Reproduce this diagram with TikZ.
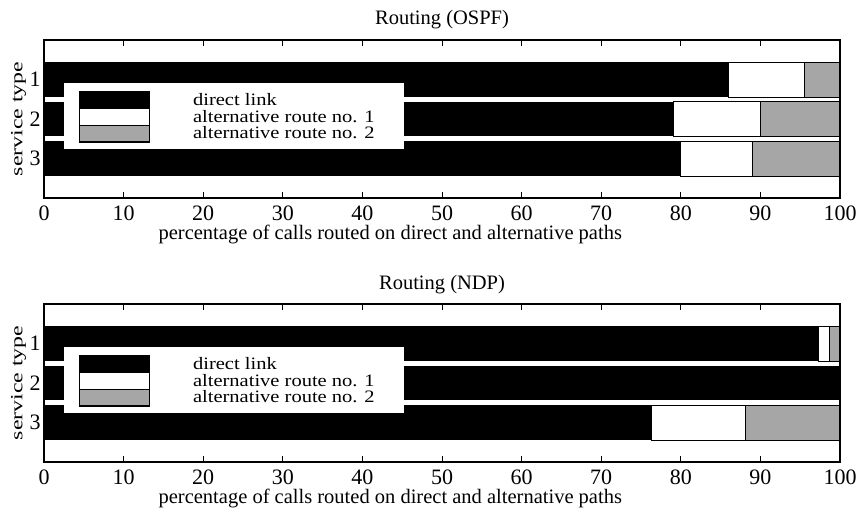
\documentclass[tikz,border=0pt]{standalone}
\usepackage{fontspec}
\setmainfont{Liberation Serif}

\begin{document}
\begin{tikzpicture}[x=1pt, y=1pt,
		txt/.style={inner sep=0pt, anchor=base, font=\fontsize{20.5}{20.5}\selectfont},
		ticklbl/.style={txt, font=\fontsize{22}{22}\selectfont},
		leglbl/.style={txt, anchor=base west},
		ylbl/.style={txt, anchor=center, rotate=90, font=\fontsize{17}{17}\selectfont},
		plotframe/.style={line width=1.2pt},
		tck/.style={line width=1pt},
		altone/.style={fill=white, draw=black, line width=0.7pt},
		alttwo/.style={fill=black!35, draw=black, line width=0.7pt}]
		\useasboundingbox (0,0) rectangle (858,512);
		
		% Routing (OSPF)
		\begin{scope}[shift={(44,314)}, x=7.96pt, y=39.5pt]
		\foreach \s/\a/\b in {1/86/95.5, 2/79/90, 3/80/89} {
			\fill (0,{4-\s-0.44}) rectangle (\a,{4-\s+0.44});
			\draw[altone] (\a,{4-\s-0.44}) rectangle (\b,{4-\s+0.44});
			\draw[alttwo] (\b,{4-\s-0.44}) rectangle (100,{4-\s+0.44});
			\node[ticklbl, anchor=center] (ospfrow\s) at (-1.13,4-\s) {\s};
		}
		\fill[white] (2.5,1.24) rectangle (45.2,2.91);
		\fill (4.4,2.28) rectangle (13.2,2.71);
		\draw[altone] (4.4,1.85) rectangle (13.2,2.28);
		\draw[alttwo] (4.4,1.42) rectangle (13.2,1.85);
		\draw[line width=0.9pt] (4.4,1.42) rectangle (13.2,2.71);
		\node[leglbl] (ospfleg1) at (18.7,2.337) {\scalebox{1}[0.85]{direct link}};
		\node[leglbl] (ospfleg2) at (18.7,1.916) {\scalebox{1}[0.85]{alternative route no. 1}};
		\node[leglbl] (ospfleg3) at (18.7,1.51) {\scalebox{1}[0.85]{alternative route no. 2}};
		\foreach \x in {10,20,...,90} {
			\draw[tck] (\x,0) -- ++(0,6pt);
			\draw[tck] (\x,4) -- ++(0,-6pt);
		}
		\draw[plotframe] (0,0) rectangle (100,4);
		\foreach \x in {0,10,...,100}
			\node[ticklbl, yshift=-22pt] (ospfx\x) at (\x,0) {\x};
		\node[txt, yshift=-41pt] (ospfxlab) at (43.5,0) {percentage of calls routed on direct and alternative paths};
		\node[ylbl] (ospfylab) at (-3.2,2) {\scalebox{1.4}[1]{service type}};
		\node[txt, yshift=15pt] (ospftitle) at (50,4) {Routing (OSPF)};
		\end{scope}
		
		% Routing (NDP)
		\begin{scope}[shift={(44,50)}, x=7.96pt, y=39.5pt]
		\foreach \s/\a/\b in {1/97.3/98.7, 2/100/100, 3/76.3/88.1} {
			\fill (0,{4-\s-0.44}) rectangle (\a,{4-\s+0.44});
			\ifdim\a pt<100pt
			\draw[altone] (\a,{4-\s-0.44}) rectangle (\b,{4-\s+0.44});
			\draw[alttwo] (\b,{4-\s-0.44}) rectangle (100,{4-\s+0.44});
			\fi
			\node[ticklbl, anchor=center] (ndprow\s) at (-1.13,4-\s) {\s};
		}
		\fill[white] (2.5,1.24) rectangle (45.2,2.91);
		\fill (4.4,2.28) rectangle (13.2,2.71);
		\draw[altone] (4.4,1.85) rectangle (13.2,2.28);
		\draw[alttwo] (4.4,1.42) rectangle (13.2,1.85);
		\draw[line width=0.9pt] (4.4,1.42) rectangle (13.2,2.71);
		\node[leglbl] (ndpleg1) at (18.7,2.337) {\scalebox{1}[0.85]{direct link}};
		\node[leglbl] (ndpleg2) at (18.7,1.916) {\scalebox{1}[0.85]{alternative route no. 1}};
		\node[leglbl] (ndpleg3) at (18.7,1.51) {\scalebox{1}[0.85]{alternative route no. 2}};
		\foreach \x in {10,20,...,90} {
			\draw[tck] (\x,0) -- ++(0,6pt);
			\draw[tck] (\x,4) -- ++(0,-6pt);
		}
		\draw[plotframe] (0,0) rectangle (100,4);
		\foreach \x in {0,10,...,100}
			\node[ticklbl, yshift=-22pt] (ndpx\x) at (\x,0) {\x};
		\node[txt, yshift=-41pt] (ndpxlab) at (43.5,0) {percentage of calls routed on direct and alternative paths};
		\node[ylbl] (ndpylab) at (-3.2,2) {\scalebox{1.4}[1]{service type}};
		\node[txt, yshift=15pt] (ndptitle) at (50,4) {Routing (NDP)};
		\end{scope}
\end{tikzpicture}
\end{document}
